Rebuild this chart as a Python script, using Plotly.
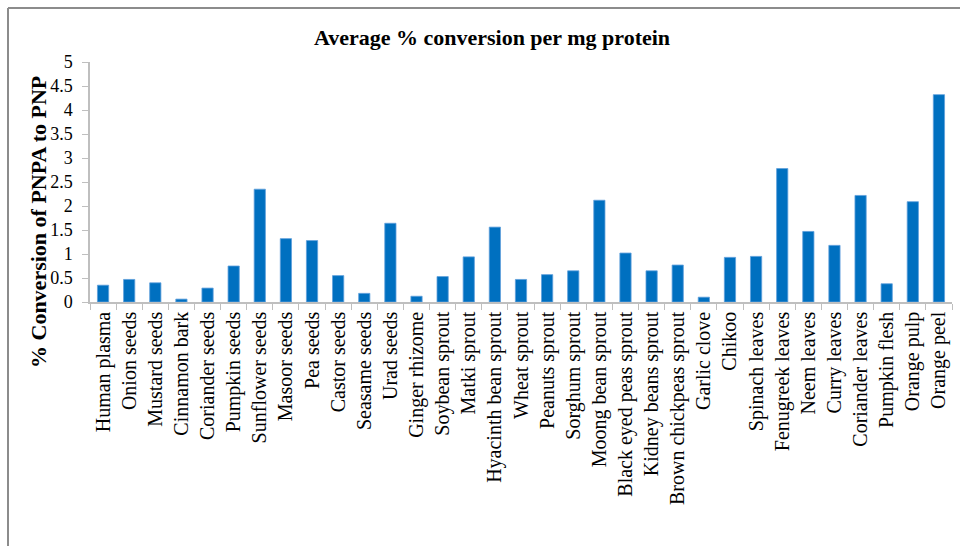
import plotly.graph_objects as go

# Sample sources and their average % conversion of PNPA to PNP per mg protein
sources = [
    "Human plasma", "Onion seeds", "Mustard seeds", "Cinnamon bark", "Coriander seeds",
    "Pumpkin seeds", "Sunflower seeds", "Masoor seeds", "Pea seeds", "Castor seeds",
    "Seasame seeds", "Urad seeds", "Ginger rhizome", "Soybean sprout", "Matki sprout",
    "Hyacinth bean sprout", "Wheat sprout", "Peanuts sprout", "Sorghum sprout",
    "Moong bean sprout", "Black eyed peas sprout", "Kidney beans sprout",
    "Brown chickpeas sprout", "Garlic clove", "Chikoo", "Spinach leaves",
    "Fenugreek leaves", "Neem leaves", "Curry leaves", "Coriander leaves",
    "Pumpkin flesh", "Orange pulp", "Orange peel",
]
conversion = [
    0.35, 0.47, 0.40, 0.06, 0.29,
    0.75, 2.35, 1.32, 1.28, 0.55,
    0.18, 1.64, 0.12, 0.53, 0.94,
    1.56, 0.47, 0.57, 0.65,
    2.12, 1.02, 0.65,
    0.77, 0.10, 0.93, 0.95,
    2.78, 1.47, 1.18, 2.22,
    0.38, 2.09, 4.32,
]
y_ticks = [0, 0.5, 1, 1.5, 2, 2.5, 3, 3.5, 4, 4.5, 5]

W, H = 960, 546
ML, MR, MT, MB = 90, 8, 62, 244
FONT = "Liberation Serif, Times New Roman, serif"

fig = go.Figure(
    go.Bar(
        x=sources,
        y=conversion,
        marker=dict(color="#0070C0", line=dict(color="#5fa0dc", width=0.8)),
    )
)

pw, ph = W - ML - MR, H - MT - MB


def px_to_paper_x(px):
    return (px - ML) / pw


def px_to_paper_y(py):
    return (H - MB - py) / ph


frame = dict(type="line", xref="paper", yref="paper",
             line=dict(color="#8c8c8c", width=2))
fig.add_shape(**frame, x0=px_to_paper_x(8), x1=px_to_paper_x(W),
              y0=px_to_paper_y(8), y1=px_to_paper_y(8))
fig.add_shape(**frame, x0=px_to_paper_x(8), x1=px_to_paper_x(8),
              y0=px_to_paper_y(8), y1=px_to_paper_y(H))

# Vertical axis caption, sitting a little below the plot's mid-height
fig.add_annotation(
    text="<b>% Conversion of PNPA to PNP</b>",
    xref="paper", yref="paper",
    x=px_to_paper_x(38), y=px_to_paper_y(222),
    xanchor="center", yanchor="middle",
    textangle=-90, showarrow=False,
    font=dict(family=FONT, size=22, color="#000000"),
)

fig.update_layout(
    width=W, height=H,
    margin=dict(l=ML, r=MR, t=MT, b=MB),
    paper_bgcolor="white", plot_bgcolor="white",
    bargap=0.57,
    showlegend=False,
    font=dict(family=FONT, color="#000000", size=17),
    title=dict(
        text="<b>Average % conversion per mg protein</b>",
        x=492 / W, xanchor="center",
        y=1 - 37 / H, yanchor="middle",
        font=dict(family=FONT, size=22, color="#000000"),
    ),
)

fig.update_xaxes(
    type="category",
    tickangle=-90,
    tickfont=dict(family=FONT, size=20, color="#000000"),
    showline=True, linecolor="#bfbfbf", linewidth=1.5,
    ticks="outside", tickson="boundaries", ticklen=6, tickcolor="#bfbfbf",
    showgrid=False,
)
fig.update_yaxes(
    range=[0, 5],
    tickvals=y_ticks,
    ticktext=[f"{v:g}" for v in y_ticks],
    tickfont=dict(family=FONT, size=18, color="#000000"),
    ticklabelstandoff=6,
    showline=True, linecolor="#bfbfbf", linewidth=1.5,
    ticks="outside", ticklen=6, tickcolor="#bfbfbf",
    showgrid=False, zeroline=False,
)

fig.write_html("out.html")
